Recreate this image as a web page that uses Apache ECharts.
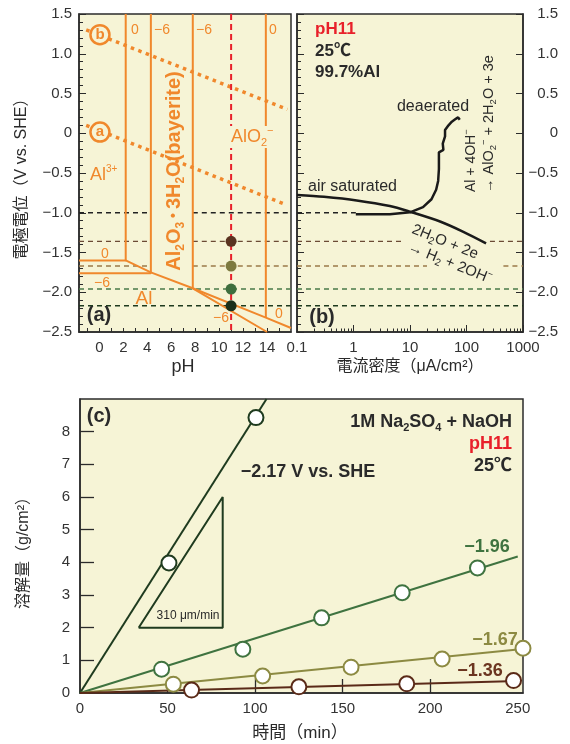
<!DOCTYPE html>
<html><head><meta charset="utf-8">
<script src="https://cdn.jsdelivr.net/npm/echarts@6/dist/echarts.min.js"></script>
<style>html,body{margin:0;padding:0;background:#fff}#c{width:570px;height:744px}</style>
</head><body><div id="c"></div>
<script>
// ---------------- data ----------------
const phLabels = [0, 2, 4, 6, 8, 10, 12, 14];
const phTickValues = [-1, 0, 1, 2, 3, 4, 5, 6, 7, 8, 9, 10, 11, 12, 13, 14, 15];
const logMinorTicks = [0.2,0.3,0.4,0.5,0.6,0.7,0.8,0.9,2,3,4,5,6,7,8,9,20,30,40,50,60,70,80,90,200,300,400,500,600,700,800,900];
const timeLabels = [0, 50, 100, 150, 200, 250];
const timeTicks = [50, 100, 150, 200];
const massLabels = [0, 1, 2, 3, 4, 5, 6, 7, 8];
const massTicks = [1, 2, 3, 4, 5, 6, 7, 8];

// (a) Pourbaix diagram boundaries  [pH, E(V vs SHE)]
const boundaryAl3Log0 = [[-1.7, -1.6], [2.2, -1.6], [2.2, 1.5]];
const boundaryAl3Log6 = [[-1.7, -1.76], [4.3, -1.76], [4.3, 1.5]];
const boundaryOxideAl = [[2.2, -1.6], [4.3, -1.75], [7.8, -1.95], [13.9, -2.32], [16, -2.45]];
const boundaryAlO2Log6 = [[7.8, 1.5], [7.8, -1.95], [14.0, -2.5]];
const boundaryAlO2Log0 = [[13.9, 1.5], [13.9, -2.32]];
const waterLineA = [[-1.1, 0.1], [15.6, -0.9]];
const waterLineB = [[-1.1, 1.3], [15.7, 0.3]];
const waterMarks = [[0.05, 1.24, 'b'], [0.05, 0.015, 'a']];
const testPH = 11;
const testPotentials = [-1.36, -1.67, -1.96, -2.17];
const refPotentials = [-1.0, -1.36, -1.67, -1.96, -2.17];
const refSegmentsPH = [[[-1.7, 4.3], [7.8, 16]], [[-1.7, 4.3], [7.8, 16]], [[-1.7, 4.3], [7.8, 16]], [[-1.7, 16]], [[-1.7, 16]]];
const refSegmentsCurrent = [[[0.1, 1.1]], [[0.1, 7], [260, 1000]], [[0.1, 20], [450, 1000]], [[0.1, 1000]], [[0.1, 1000]]];

// (b) polarization curves [current density uA/cm2, E]
const airSaturated = [[0.1, -0.777], [0.3, -0.8], [1.14, -0.845], [4.4, -0.915], [10, -0.987], [34, -1.11], [88, -1.24], [222, -1.385]];
const deaerated = [[1.1, -1.02], [4.4, -1.02], [10, -0.995], [17, -0.93], [24, -0.83], [29, -0.71], [31.5, -0.6], [32.5, -0.45], [32.5, -0.24], [39, -0.21], [38, -0.13], [41.7, -0.04], [41.7, 0.04], [48, 0.10], [55, 0.145], [63, 0.175], [71, 0.2], [76, 0.17]];

// (c) dissolution vs time [min, g/cm2]
const pts217 = [[50.8, 3.98], [100.5, 8.43]];
const fit217 = [[0, 0], [106.5, 9]];
const pts196 = [[46.6, 0.73], [93, 1.34], [138, 2.3], [184, 3.07], [227, 3.83]];
const fit196 = [[0, 0], [250, 4.18]];
const pts167 = [[53.3, 0.27], [104.3, 0.52], [154.8, 0.79], [206.8, 1.04], [253, 1.37]];
const fit167 = [[0, 0], [250, 1.33]];
const pts136 = [[63.7, 0.09], [125, 0.19], [186.6, 0.28], [247.6, 0.38]];
const fit136 = [[0, 0], [250, 0.37]];
const rateTriangle = [[33.5, 2], [81.5, 6], [81.5, 2], [33.5, 2]];

// ---------------- style ----------------
const F = "'Liberation Sans','Noto Sans CJK JP',sans-serif";
const ORANGE = '#f0882c';
const BG = '#f6f4d6';
const AX = '#2b2b2b';
const TXT = '#2a2a2a';
const refColors = ['#222222', '#6b4a35', '#9a7a4a', '#4a7a4a', '#1e3a1e'];
const dotColors = ['#5a3320', '#7d7a40', '#3e6e3e', '#1a301a'];
const C217 = '#1f3b1f', C196 = '#3f7340', C167 = '#8c8a42', C136 = '#5a2a18';
const fmtE = v => v === 0 ? '0' : (v < 0 ? '\u2212' : '') + Math.abs(v).toFixed(1);

const chart = echarts.init(document.getElementById('c'));

function line(xi, yi, data, color, width, type, z) {
  return { type: 'line', xAxisIndex: xi, yAxisIndex: yi, data: data, symbol: 'none', silent: true,
    lineStyle: { color: color, width: width, type: type || 'solid' }, z: z || 2, animation: false };
}
const series = [];
// (a)
refPotentials.forEach((e, i) => refSegmentsPH[i].forEach(s => series.push(line(0, 0, [[s[0], e], [s[1], e]], refColors[i], 1.4, [5, 4], 1))));
[boundaryAl3Log0, boundaryAl3Log6, boundaryOxideAl, boundaryAlO2Log6, boundaryAlO2Log0].forEach(b => series.push(line(0, 0, b, ORANGE, 2, 'solid', 2)));
series.push(line(0, 0, waterLineA, ORANGE, 3.5, [3.5, 4.5], 2));
series.push(line(0, 0, waterLineB, ORANGE, 3.5, [3.5, 4.5], 2));
series.push(line(0, 0, [[testPH, 1.5], [testPH, -2.5]], '#e8202a', 2, [6, 4], 3));
series.push({ type: 'scatter', xAxisIndex: 0, yAxisIndex: 0, data: waterMarks, symbolSize: 19, z: 5, animation: false,
  itemStyle: { color: BG, borderColor: ORANGE, borderWidth: 2.5, opacity: 1 },
  label: { show: true, position: 'inside', formatter: p => p.data[2], color: ORANGE, fontSize: 15, fontWeight: 'bold', fontFamily: F } });
series.push({ type: 'scatter', xAxisIndex: 0, yAxisIndex: 0, z: 6, animation: false, symbolSize: 11,
  data: testPotentials.map((e, i) => ({ value: [testPH, e], itemStyle: { color: dotColors[i], opacity: 1 } })) });
// (b)
refPotentials.forEach((e, i) => refSegmentsCurrent[i].forEach(s => series.push(line(1, 1, [[s[0], e], [s[1], e]], refColors[i], 1.4, [5, 4], 1))));
series.push(Object.assign(line(1, 1, airSaturated, '#1a1a1a', 2.5), { smooth: 0.3 }));
series.push(line(1, 1, deaerated, '#1a1a1a', 2.5));
// (c)
series.push(line(3, 3, rateTriangle, C217, 2));
[[fit217, pts217, C217], [fit196, pts196, C196], [fit167, pts167, C167], [fit136, pts136, C136]].forEach(d => {
  series.push(line(3, 3, d[0], d[2], 2));
  series.push({ type: 'scatter', xAxisIndex: 3, yAxisIndex: 3, data: d[1], symbolSize: 15, clip: false, z: 5, animation: false,
    itemStyle: { color: '#ffffff', borderColor: d[2], borderWidth: 2, opacity: 1 } });
});

const axLine = { show: true, onZero: false, lineStyle: { color: AX, width: 1.5 } };
const lbl = { fontSize: 15, color: '#333', fontFamily: F };

const sub = (c, fs) => ({ fontSize: fs, fill: c, fontFamily: F, height: 6, verticalAlign: 'bottom' });
const sup = (c, fs) => ({ fontSize: fs, fill: c, fontFamily: F, height: 6, verticalAlign: 'top' });
function T(x, y, text, o) {
  o = o || {};
  return { type: 'text', x: x, y: y, z: 100, rotation: o.rot || 0, silent: true,
    style: Object.assign({ text: text, fill: o.color || TXT, fontSize: o.fs || 14, fontWeight: o.fw || 'normal', fontFamily: F,
      align: o.align || 'center', verticalAlign: 'middle' }, o.extra || {}) };
}
const nO = (fs, c, fw) => ({ fontSize: fs, fill: c, fontFamily: F, fontWeight: fw || 'normal' });

const graphic = [
  // axis names
  T(22, 175, '電極電位（V vs. SHE）', { rot: Math.PI / 2, fs: 16 }),
  T(183, 367, 'pH', { fs: 18 }),
  T(410, 367, '電流密度（μA/cm²）', { fs: 16 }),
  T(24, 549, '溶解量（g/cm²）', { rot: Math.PI / 2, fs: 16 }),
  T(300, 733, '時間（min）', { fs: 17 }),
  // (a)
  T(99, 315, '(a)', { fs: 20, fw: 'bold' }),
  T(131, 30, '0', { fs: 14, color: ORANGE, align: 'left' }),
  T(154, 30, '\u22126', { fs: 14, color: ORANGE, align: 'left' }),
  T(196, 30, '\u22126', { fs: 14, color: ORANGE, align: 'left' }),
  T(269, 30, '0', { fs: 14, color: ORANGE, align: 'left' }),
  T(105, 254, '0', { fs: 14, color: ORANGE }),
  T(102, 283, '\u22126', { fs: 14, color: ORANGE }),
  T(221, 318, '\u22126', { fs: 14, color: ORANGE }),
  T(279, 314, '0', { fs: 14, color: ORANGE }),
  T(90, 175, '{n|Al}{p|3+}', { align: 'left', extra: { rich: { n: nO(18, ORANGE), p: sup(ORANGE, 10) } } }),
  T(144, 299, 'Al', { fs: 19, color: ORANGE }),
  T(229, 137, '{n|AlO}{s|2}{p|\u2212}', { align: 'left', extra: { backgroundColor: BG, padding: [2, 3, 2, 2],
    rich: { n: nO(18, ORANGE), s: sub(ORANGE, 11), p: sup(ORANGE, 11) } } }),
  T(174, 171, '{n|Al}{s|2}{n|O}{s|3}{d| • }{n|3H}{s|2}{n|O(bayerite)}', { rot: Math.PI / 2,
    extra: { rich: { n: nO(20, ORANGE, 'bold'), s: Object.assign(sub(ORANGE, 12), { fontWeight: 'bold' }), d: nO(14, ORANGE, 'bold') } } }),
  // (b)
  T(322, 317, '(b)', { fs: 20, fw: 'bold' }),
  T(315, 29, 'pH11', { fs: 17, fw: 'bold', color: '#e8202a', align: 'left' }),
  T(315, 51, '25℃', { fs: 17, fw: 'bold', align: 'left' }),
  T(315, 72, '99.7%Al', { fs: 17, fw: 'bold', align: 'left' }),
  T(433, 107, 'deaerated', { fs: 16 }),
  T(308, 187, 'air saturated', { fs: 16, align: 'left' }),
  T(471, 192, '{n|Al + 4OH}{p|\u2212}', { rot: Math.PI / 2, align: 'left', extra: { rich: { n: nO(14, TXT), p: sup(TXT, 9) } } }),
  T(489, 193, '{n|→ AlO}{s|2}{p|\u2212}{n| + 2H}{s|2}{n|O + 3e}', { rot: Math.PI / 2, align: 'left',
    extra: { rich: { n: nO(14.5, TXT), s: sub(TXT, 9.5), p: sup(TXT, 9.5) } } }),
  T(445, 242, '{n|2H}{s|2}{n|O + 2e}', { rot: -22 * Math.PI / 180, extra: { rich: { n: nO(15, TXT), s: sub(TXT, 10) } } }),
  T(450, 263, '{n|→ H}{s|2}{n| + 2OH}{p|\u2212}', { rot: -22 * Math.PI / 180, extra: { rich: { n: nO(15, TXT), s: sub(TXT, 10), p: sup(TXT, 9) } } }),
  // (c)
  T(99, 416, '(c)', { fs: 20, fw: 'bold' }),
  T(308, 472, '\u22122.17 V vs. SHE', { fs: 18, fw: 'bold' }),
  T(512, 422, '{b|1M Na}{s|2}{b|SO}{s|4}{b| + NaOH}', { align: 'right', extra: { rich: { b: nO(18, TXT, 'bold'), s: Object.assign(sub(TXT, 11), { fontWeight: 'bold' }) } } }),
  T(512, 444, 'pH11', { fs: 18, fw: 'bold', color: '#e8202a', align: 'right' }),
  T(512, 466, '25℃', { fs: 18, fw: 'bold', align: 'right' }),
  T(487, 547, '\u22121.96', { fs: 18, fw: 'bold', color: C196 }),
  T(495, 640, '\u22121.67', { fs: 18, fw: 'bold', color: C167 }),
  T(480, 671, '\u22121.36', { fs: 18, fw: 'bold', color: '#6b3520' }),
  T(188, 616, '310 μm/min', { fs: 12 })
];

const option = {
  animation: false,
  backgroundColor: '#ffffff',
  grid: [
    { left: 79, top: 14, width: 212, height: 318, show: true, backgroundColor: BG, borderColor: AX, borderWidth: 1.5 },
    { left: 297, top: 14, width: 226, height: 318, show: true, backgroundColor: BG, borderColor: AX, borderWidth: 1.5 },
    { left: 80, top: 399, width: 443, height: 294, show: true, backgroundColor: BG, borderColor: AX, borderWidth: 1.5 }
  ],
  xAxis: [
    { gridIndex: 0, type: 'value', min: -1.7, max: 16, position: 'bottom', axisLine: axLine, splitLine: { show: false },
      axisTick: { inside: true, length: 4, customValues: phTickValues, lineStyle: { color: AX } },
      axisLabel: Object.assign({ customValues: phLabels, margin: 8 }, lbl) },
    { gridIndex: 1, type: 'log', logBase: 10, min: 0.1, max: 1000, position: 'bottom', axisLine: axLine, splitLine: { show: false },
      axisTick: { inside: true, length: 7, lineStyle: { color: AX } },
      axisLabel: Object.assign({ margin: 8, formatter: v => String(+(+v).toPrecision(3)) }, lbl) },
    { gridIndex: 1, type: 'value', min: -1, max: 3, position: 'bottom', offset: 0, axisLine: { show: false, onZero: false }, splitLine: { show: false },
      axisTick: { inside: true, length: 3.5, customValues: logMinorTicks.map(v => Math.log10(v)), lineStyle: { color: AX } },
      axisLabel: { show: false } },
    { gridIndex: 2, type: 'value', min: 0, max: 253, position: 'bottom', axisLine: axLine, splitLine: { show: false },
      axisTick: { inside: true, length: 14, customValues: timeTicks, lineStyle: { color: AX, width: 1.3 } },
      axisLabel: Object.assign({ customValues: timeLabels, margin: 8 }, lbl) }
  ],
  yAxis: [
    { gridIndex: 0, type: 'value', min: -2.5, max: 1.5, interval: 0.5, axisLine: axLine, splitLine: { show: false },
      axisTick: { inside: true, length: 7, lineStyle: { color: AX } },
      minorTick: { show: true, splitNumber: 5, length: 4, lineStyle: { color: AX } },
      axisLabel: Object.assign({ formatter: fmtE, margin: 7 }, lbl) },
    { gridIndex: 1, type: 'value', min: -2.5, max: 1.5, interval: 0.5, position: 'left', axisLine: axLine, splitLine: { show: false },
      axisTick: { inside: true, length: 7, lineStyle: { color: AX } },
      minorTick: { show: true, splitNumber: 5, length: 4, lineStyle: { color: AX } },
      axisLabel: { show: false } },
    { gridIndex: 1, type: 'value', min: -2.5, max: 1.5, interval: 0.5, position: 'right', axisLine: axLine, splitLine: { show: false },
      axisTick: { inside: true, length: 7, lineStyle: { color: AX } },
      axisLabel: Object.assign({ formatter: fmtE, margin: 35, align: 'right' }, lbl) },
    { gridIndex: 2, type: 'value', min: 0, max: 9, interval: 1, axisLine: axLine, splitLine: { show: false },
      axisTick: { inside: true, length: 14, customValues: massTicks, lineStyle: { color: AX, width: 1.3 } },
      axisLabel: Object.assign({ customValues: massLabels, margin: 10 }, lbl) }
  ],
  series: series,
  graphic: graphic
};
chart.setOption(option);
</script>
</body></html>
